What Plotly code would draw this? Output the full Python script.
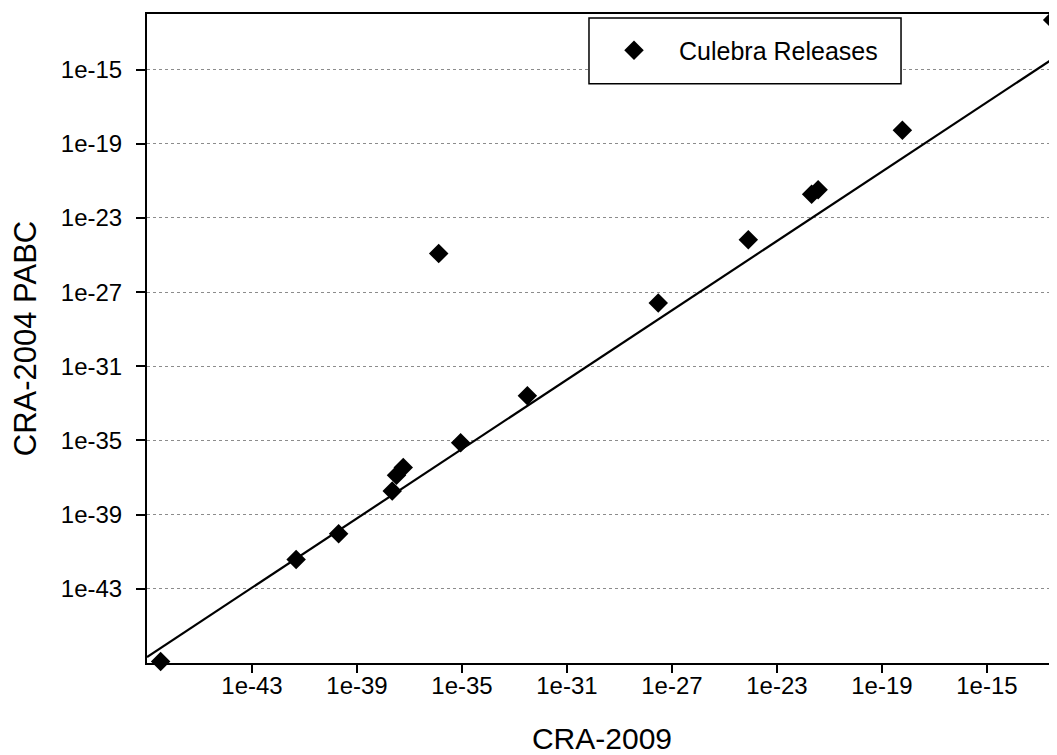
import plotly.graph_objects as go

## Culebra release values (CRA-2009 vs CRA-2004 PABC)
cra2009 = [3.3e-47, 4.8e-42, 2.0e-40, 2.2e-38, 3.2e-38, 5.8e-38, 8.9e-36, 1.3e-36,
           3.1e-33, 3.0e-28, 8.1e-25, 2.1e-22, 3.7e-22, 6.0e-19, 3.2e-13]
cra2004 = [1.2e-47, 3.8e-42, 9.3e-41, 1.9e-38, 1.35e-37, 3.5e-37, 7.6e-36, 1.2e-25,
           2.6e-33, 2.6e-28, 6.6e-25, 1.9e-22, 3.3e-22, 5.4e-19, 4.8e-13]

## Trend line end points
trend_x = [1e-47, 1e-12]
trend_y = [2.1e-47, 1.1e-14]

## Tick labels
tick_vals = [1e-43, 1e-39, 1e-35, 1e-31, 1e-27, 1e-23, 1e-19, 1e-15]
tick_text = ['1e-43', '1e-39', '1e-35', '1e-31', '1e-27', '1e-23', '1e-19', '1e-15']

FONT = 'Liberation Sans, Arial, sans-serif'

fig = go.Figure()

fig.add_trace(go.Scatter(x=trend_x, y=trend_y,
                         mode='lines',
                         line=dict(color='#000000', width=2.2),
                         showlegend=False,
                         hoverinfo='skip'
                        ))
fig.add_trace(go.Scatter(name='Culebra Releases',
                         x=cra2009, y=cra2004,
                         mode='markers',
                         marker=dict(symbol='diamond', size=15, color='#000000'),
                         cliponaxis=False
                        ))

## Legend box
fig.add_shape(type='rect', xref='paper', yref='paper',
              x0=0.4857, x1=0.8286, y0=0.8924, y1=0.9938,
              line=dict(color='#000000', width=1.5),
              fillcolor='#ffffff', layer='above')

fig.update_xaxes(type='log', range=[-47, -12.33],
                 tickvals=tick_vals, ticktext=tick_text,
                 showgrid=False, zeroline=False,
                 showline=True, linecolor='#000000', linewidth=2, mirror=True,
                 ticks='outside', ticklen=8, tickwidth=2, tickcolor='#000000',
                 ticklabelstandoff=-8,
                 tickfont=dict(family=FONT, size=24, color='#000000'),
                 title=dict(text='CRA-2009', standoff=34,
                            font=dict(family=FONT, size=30, color='#000000'))
                )
fig.update_yaxes(type='log', range=[-47, -12],
                 tickvals=tick_vals, ticktext=tick_text,
                 showgrid=True, gridcolor='#8c8c8c', gridwidth=1, griddash='dot',
                 zeroline=False,
                 showline=True, linecolor='#000000', linewidth=2,
                 ticks='outside', ticklen=9, tickwidth=2, tickcolor='#000000',
                 ticklabelstandoff=9,
                 tickfont=dict(family=FONT, size=24, color='#000000'),
                 title=dict(text='CRA-2004 PABC', standoff=22,
                            font=dict(family=FONT, size=31, color='#000000'))
                )

## page body adds an 8px margin, so the figure is sized 8px smaller
fig.update_layout(width=1049, height=747,
                  margin=dict(l=139, r=0, t=6, b=92, autoexpand=False),
                  plot_bgcolor='#ffffff', paper_bgcolor='#ffffff',
                  font=dict(family=FONT, color='#000000'),
                  showlegend=True,
                  legend=dict(x=0.4857, y=0.9438, xanchor='left', yanchor='middle',
                              bgcolor='rgba(0,0,0,0)', borderwidth=0,
                              itemwidth=80,
                              font=dict(family=FONT, size=25, color='#000000'))
                 )

fig.write_html('out.html')
